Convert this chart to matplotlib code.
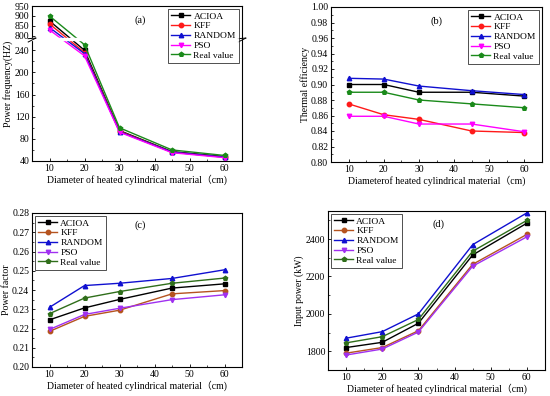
import numpy as np
import matplotlib
matplotlib.use("Agg")
import matplotlib.pyplot as plt
from matplotlib.ticker import MultipleLocator, FixedLocator

plt.rcParams['font.family'] = ['Liberation Serif', 'Noto Sans CJK SC', 'DejaVu Serif']
plt.rcParams['xtick.direction'] = 'in'
plt.rcParams['ytick.direction'] = 'in'

x = [10, 20, 30, 45, 60]
series = ["ACIOA", "KFF", "RANDOM", "PSO", "Real value"]

freq = {
    "ACIOA": [875, 240, 95, 57, 48],
    "KFF": [860, 236, 94, 56, 47],
    "RANDOM": [842, 234, 93, 56, 47],
    "PSO": [830, 230, 92, 55, 46],
    "Real value": [900, 250, 100, 60, 50],
}
eff = {
    "ACIOA": [0.900, 0.900, 0.890, 0.890, 0.885],
    "KFF": [0.875, 0.861, 0.855, 0.840, 0.838],
    "RANDOM": [0.908, 0.907, 0.898, 0.892, 0.887],
    "PSO": [0.859, 0.859, 0.849, 0.849, 0.839],
    "Real value": [0.890, 0.890, 0.880, 0.875, 0.870],
}
pf = {
    "ACIOA": [0.2245, 0.2307, 0.2351, 0.2410, 0.2432],
    "KFF": [0.2185, 0.2263, 0.2295, 0.2380, 0.2397],
    "RANDOM": [0.2310, 0.2423, 0.2435, 0.2460, 0.2505],
    "PSO": [0.2195, 0.2273, 0.2305, 0.2350, 0.2375],
    "Real value": [0.2277, 0.2358, 0.2392, 0.2435, 0.2462],
}
power = {
    "ACIOA": [1820, 1848, 1950, 2315, 2485],
    "KFF": [1790, 1820, 1910, 2265, 2425],
    "RANDOM": [1870, 1905, 2000, 2370, 2540],
    "PSO": [1780, 1812, 1903, 2255, 2412],
    "Real value": [1845, 1878, 1970, 2335, 2500],
}

markers = {"ACIOA": "s", "KFF": "o", "RANDOM": "^", "PSO": "v", "Real value": "p"}
colors_ab = {"ACIOA": "black", "KFF": "#ff1a1a", "RANDOM": "#1010d0", "PSO": "#ff00ff", "Real value": "#1a8a1a"}
colors_cd = {"ACIOA": "black", "KFF": "#b5531f", "RANDOM": "#1010d0", "PSO": "#a030f0", "Real value": "#2f6e1a"}

W, H = 550, 396
fig = plt.figure(figsize=(W / 100, H / 100), dpi=100)

def add_ax(l, r, t, b):
    return fig.add_axes([l / W, 1 - b / H, (r - l) / W, (b - t) / H])

axa = add_ax(32, 242, 6, 161)
axb = add_ax(331, 542, 7, 162)
axc = add_ax(32, 242, 213, 367)
axd = add_ax(328, 545, 211, 370)

# broken scale for (a)
bx = np.array([-1e6, 262, 800, 1e6])
by = np.array([-1e6, 262, 266, 266 + (1e6 - 800) * 0.36])
fwd = lambda v: np.interp(v, bx, by)
inv = lambda v: np.interp(v, by, bx)
axa.set_yscale('function', functions=(fwd, inv))

XLAB = "Diameter of heated cylindrical material\uff08cm)"

def plot_panel(ax, data, cols):
    for s in series:
        ax.plot(x, data[s], color=cols[s], marker=markers[s], markersize=3.2,
                linewidth=1.0, label=s)
    ax.set_xlim(5, 65)
    ax.xaxis.set_major_locator(MultipleLocator(10))
    ax.xaxis.set_minor_locator(MultipleLocator(5))
    ax.tick_params(labelsize=7, length=2.5, width=0.6, pad=2)
    ax.tick_params(which='minor', length=1.5, width=0.5)
    for sp in ax.spines.values():
        sp.set_linewidth(0.8)
    ax.set_xlabel(XLAB, fontsize=7, labelpad=1.5)

def panel_label(ax, s, fx, fy):
    ax.text(fx, fy, s, transform=ax.transAxes, fontsize=7.5, ha='left', va='center', zorder=11)

plot_panel(axa, freq, colors_ab)
axa.set_ylim(40, 950)
axa.yaxis.set_major_locator(FixedLocator([40, 80, 120, 160, 200, 240, 800, 850, 900, 950]))
axa.yaxis.set_minor_locator(FixedLocator([60, 100, 140, 180, 220]))
axa.set_ylabel("Power frequency(HZ)", fontsize=7, labelpad=1)
axa.axhspan(258, 268, color='white', zorder=5)
for xx in (0, 1):
    for yy in (259, 265):
        axa.plot([xx - 0.018, xx + 0.018], [yy - 4, yy + 4], color='black', lw=0.7,
                 transform=axa.get_yaxis_transform(), clip_on=False, zorder=6)
panel_label(axa, "(a)", 0.49, 0.91)

plot_panel(axb, eff, colors_ab)
axb.set_ylim(0.80, 1.00)
axb.yaxis.set_major_locator(MultipleLocator(0.02))
axb.yaxis.set_minor_locator(MultipleLocator(0.01))
axb.yaxis.set_major_formatter(plt.FormatStrFormatter('%.2f'))
axb.set_ylabel("Thermal efficiency", fontsize=7, labelpad=1)
axb.set_xlabel("Diameterof heated cylindrical material\uff08cm)", fontsize=7, labelpad=1.5)
panel_label(axb, "(b)", 0.47, 0.91)

plot_panel(axc, pf, colors_cd)
axc.set_ylim(0.20, 0.28)
axc.yaxis.set_major_locator(MultipleLocator(0.01))
axc.yaxis.set_minor_locator(MultipleLocator(0.005))
axc.yaxis.set_major_formatter(plt.FormatStrFormatter('%.2f'))
axc.set_ylabel("Power factor", fontsize=7, labelpad=1)
panel_label(axc, "(c)", 0.49, 0.92)

plot_panel(axd, power, colors_cd)
axd.set_ylim(1700, 2550)
axd.yaxis.set_major_locator(MultipleLocator(200))
axd.yaxis.set_minor_locator(MultipleLocator(100))
axd.set_ylabel("Input power (kW)", fontsize=7, labelpad=1)
panel_label(axd, "(d)", 0.48, 0.92)

leg_kw = dict(fontsize=6.8, frameon=True, fancybox=False, edgecolor='black',
              handlelength=2.0, handletextpad=0.35, labelspacing=0.12,
              borderpad=0.3, borderaxespad=0.35)
for ax, loc in ((axa, 'upper right'), (axb, 'upper right'), (axc, 'upper left'), (axd, 'upper left')):
    lg = ax.legend(loc=loc, **leg_kw)
    lg.get_frame().set_linewidth(0.6)
    lg.set_zorder(10)

fig.savefig("out.png", dpi=100)
